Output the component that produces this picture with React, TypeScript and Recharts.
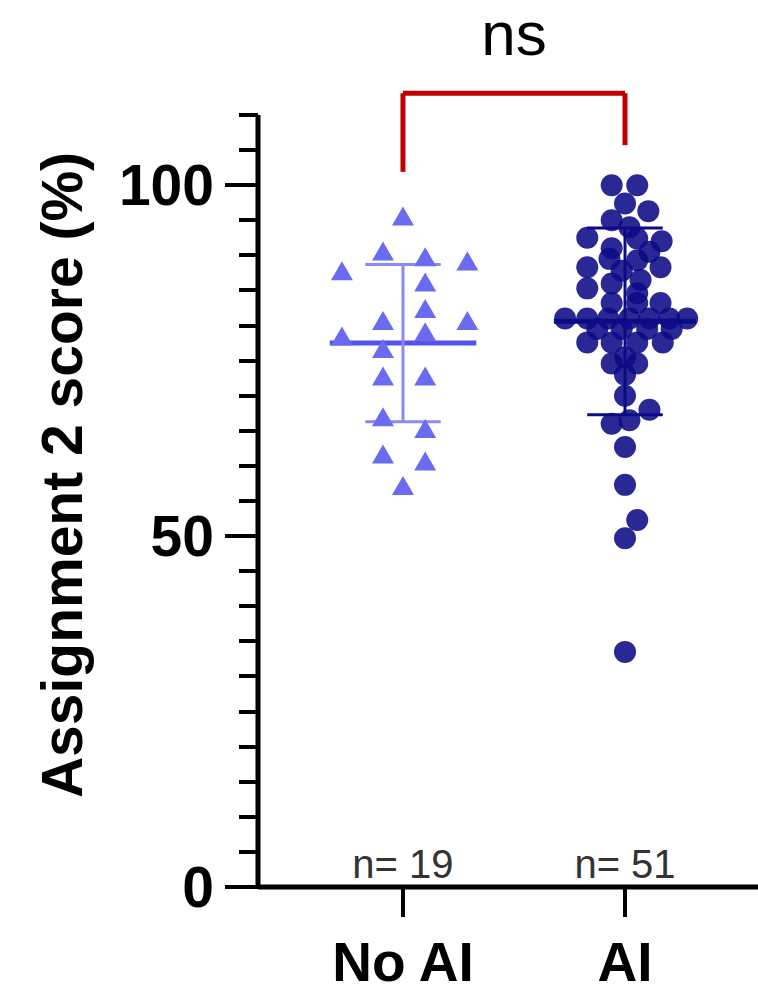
import {
  ComposedChart,
  ReferenceLine,
  Scatter,
  XAxis,
  YAxis
} from "recharts";

// groups
const groups = ["No AI", "AI"];
const groupCounts = ["n= 19", "n= 51"];

// No AI scores (triangles) and beeswarm offset from the group centre
const noAiScores = [
  95.4, 90.4, 89.6, 89.0, 87.6, 86.0, 82.2, 80.5, 80.5, 78.3,
  78.9, 76.5, 72.6, 72.6, 66.8, 65.1, 61.5, 60.5, 57.0
];
const noAiJitter = [
  0, -0.09, 0.1, 0.29, -0.275, 0.1, 0.1, -0.09, 0.29, -0.275,
  0.1, -0.09, -0.09, 0.1, -0.09, 0.1, -0.09, 0.1, 0
];

// AI scores (circles)
const aiScores = [
  100, 100, 97.4, 96.3, 95, 94, 92.5, 92.4, 92, 90.5,
  89.5, 89.3, 88.3, 88.3, 87.8, 86.5, 86, 85.3, 84.6,
  83.2, 83.2, 83.2, 81, 81, 81, 81, 81, 81, 81,
  79.5, 79.5, 79.5, 79.5, 77.6, 77.6, 77.6, 77.6,
  75.5, 74.6, 74.6, 73, 91, 70, 68, 66.5, 66,
  62.7, 57.3, 52.3, 49.7, 33.5
];
const aiJitter = [
  -0.06, 0.055, 0, 0.105, -0.06, 0.02, -0.17, 0.055, 0.165, 0.11,
  -0.07, 0.055, -0.17, 0.16, -0.015, 0.07, -0.06, -0.17, 0.055,
  -0.06, 0.055, 0.16, -0.27, -0.17, -0.075, 0.02, 0.11, 0.2, 0.28,
  -0.125, -0.015, 0.1, 0.21, -0.17, -0.06, 0.055, 0.17,
  0, -0.06, 0.055, 0, -0.06, 0, 0.11, 0.02, -0.06,
  0, 0, 0.055, 0, 0
];

// mean and SD per group
const means = [77.5, 80.6];
const sds = [11.2, 13.3];

// significance bracket
const bracketTop = 113.1;
const bracketEnds = [101.9, 105.7];

const yTicks = [0, 5, 10, 15, 20, 25, 30, 35, 40, 45, 50, 55, 60, 65, 70, 75, 80, 85, 90, 95, 100, 105, 110];
const yLabelled = [0, 50, 100];

const FONT = "'Liberation Sans', Arial, sans-serif";
const LIGHT = "#6b6bf2";
const DARK = "#0d0a85";
const RED = "#c00000";

const noAiData = noAiScores.map((v, i) => ({ x: 1 + noAiJitter[i], y: v }));
const aiData = aiScores.map((v, i) => ({ x: 2 + aiJitter[i], y: v }));

function Triangle(props: any) {
  const { cx, cy } = props;
  return (
    <path
      d={`M${cx},${cy - 11} L${cx + 11},${cy + 8} L${cx - 11},${cy + 8} Z`}
      fill={LIGHT}
    />
  );
}

function Dot(props: any) {
  const { cx, cy } = props;
  return <circle cx={cx} cy={cy} r={11} fill={DARK} fillOpacity={0.88} />;
}

function YTick(props: any) {
  const { x, y, payload } = props;
  const major = yLabelled.includes(payload.value);
  return (
    <g>
      <line x1={x} x2={x - (major ? 33 : 19)} y1={Math.round(y)} y2={Math.round(y)} stroke="#000" strokeWidth={4} />
      {major && (
        <text
          x={x - 44}
          y={y}
          textAnchor="end"
          dominantBaseline="central"
          fontFamily={FONT}
          fontWeight={700}
          fontSize={57}
          fill="#000"
        >
          {payload.value}
        </text>
      )}
    </g>
  );
}

function XTick(props: any) {
  const { x, y, payload } = props;
  const i = payload.value - 1;
  return (
    <g>
      <line x1={x} x2={x} y1={y} y2={y + 30} stroke="#000" strokeWidth={4} />
      <text x={x} y={y - 9} textAnchor="middle" fontFamily={FONT} fontSize={40} fill="#333">
        {groupCounts[i]}
      </text>
      <text x={x} y={y + 94} textAnchor="middle" fontFamily={FONT} fontWeight={700} fontSize={55} fill="#000">
        {groups[i]}
      </text>
    </g>
  );
}

export default function App() {
  return (
    <div style={{ position: "absolute", left: 0, top: 0, background: "#fff" }}>
      <ComposedChart width={758} height={995} margin={{ top: 115, right: 0, bottom: 0, left: 0 }}>
        <XAxis
          type="number"
          dataKey="x"
          domain={[0.347, 2.599]}
          ticks={[1, 2]}
          allowDataOverflow
          height={108}
          tickSize={0}
          tickMargin={0}
          tickLine={false}
          tick={<XTick />}
          axisLine={{ stroke: "#000", strokeWidth: 5 }}
        />
        <YAxis
          type="number"
          dataKey="y"
          domain={[0, 110]}
          ticks={yTicks}
          interval={0}
          width={258}
          tickSize={0}
          tickMargin={0}
          tickLine={false}
          tick={<YTick />}
          axisLine={{ stroke: "#000", strokeWidth: 5 }}
          label={{
            value: "Assignment 2 score (%)",
            content: () => (
              <text
                x={62}
                y={475}
                transform="rotate(-90 62 475)"
                textAnchor="middle"
                dominantBaseline="central"
                fontFamily={FONT}
                fontWeight={700}
                fontSize={57}
                fill="#000"
              >
                Assignment 2 score (%)
              </text>
            )
          }}
        />
        <Scatter data={noAiData} shape={<Triangle />} isAnimationActive={false} />
        <Scatter data={aiData} shape={<Dot />} isAnimationActive={false} />

        {/* No AI mean ± SD */}
        <ReferenceLine segment={[{ x: 1 - 0.33, y: means[0] }, { x: 1 + 0.33, y: means[0] }]} stroke="#5252ee" strokeWidth={5} ifOverflow="visible" />
        <ReferenceLine segment={[{ x: 1, y: means[0] - sds[0] }, { x: 1, y: means[0] + sds[0] }]} stroke="#8a8af2" strokeWidth={3} ifOverflow="visible" />
        <ReferenceLine segment={[{ x: 1 - 0.17, y: means[0] + sds[0] }, { x: 1 + 0.17, y: means[0] + sds[0] }]} stroke="#8a8af2" strokeWidth={3} ifOverflow="visible" />
        <ReferenceLine segment={[{ x: 1 - 0.17, y: means[0] - sds[0] }, { x: 1 + 0.17, y: means[0] - sds[0] }]} stroke="#8a8af2" strokeWidth={3} ifOverflow="visible" />

        {/* AI mean ± SD */}
        <ReferenceLine segment={[{ x: 2 - 0.32, y: means[1] }, { x: 2 + 0.32, y: means[1] }]} stroke={DARK} strokeWidth={5} ifOverflow="visible" />
        <ReferenceLine segment={[{ x: 2, y: means[1] - sds[1] }, { x: 2, y: means[1] + sds[1] }]} stroke={DARK} strokeWidth={3} ifOverflow="visible" />
        <ReferenceLine segment={[{ x: 2 - 0.17, y: means[1] + sds[1] }, { x: 2 + 0.17, y: means[1] + sds[1] }]} stroke={DARK} strokeWidth={3} ifOverflow="visible" />
        <ReferenceLine segment={[{ x: 2 - 0.17, y: means[1] - sds[1] }, { x: 2 + 0.17, y: means[1] - sds[1] }]} stroke={DARK} strokeWidth={3} ifOverflow="visible" />

        {/* significance bracket */}
        <ReferenceLine
          segment={[{ x: 1, y: bracketTop }, { x: 2, y: bracketTop }]}
          stroke={RED}
          strokeWidth={5}
          ifOverflow="visible"
          label={(p: any) => {
            const vb = p.viewBox || {};
            return (
              <text
                x={vb.x + (vb.width || 0) / 2}
                y={vb.y - 38}
                textAnchor="middle"
                fontFamily={FONT}
                fontSize={62}
                fill="#000"
              >
                ns
              </text>
            );
          }}
        />
        <ReferenceLine segment={[{ x: 1, y: bracketEnds[0] }, { x: 1, y: bracketTop }]} stroke={RED} strokeWidth={5} ifOverflow="visible" />
        <ReferenceLine segment={[{ x: 2, y: bracketEnds[1] }, { x: 2, y: bracketTop }]} stroke={RED} strokeWidth={5} ifOverflow="visible" />
      </ComposedChart>
    </div>
  );
}
